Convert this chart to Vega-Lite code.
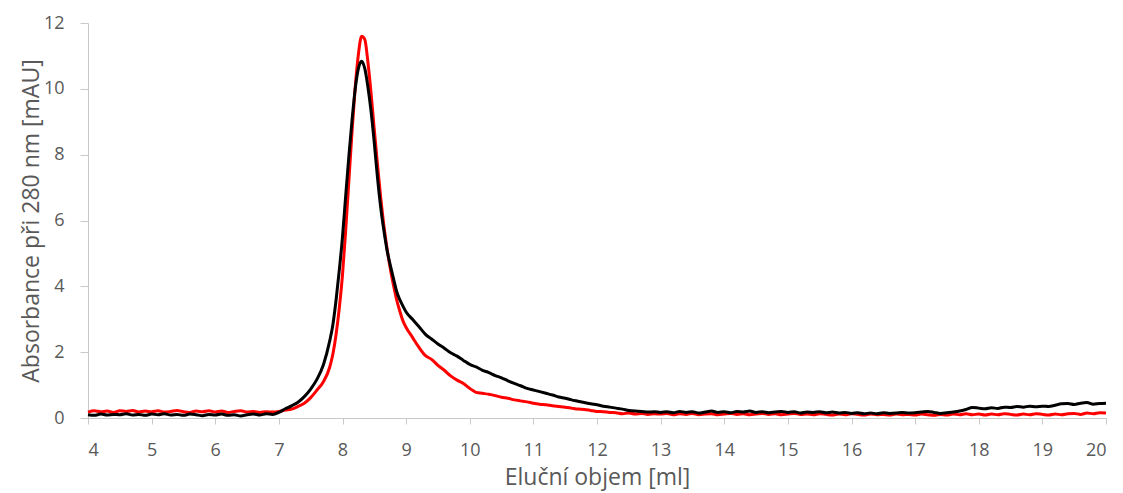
{
  "$schema": "https://vega.github.io/schema/vega-lite/v6.json",
  "width": 1018,
  "height": 395,
  "autosize": {"type": "none"},
  "padding": {"left": 88, "top": 23, "right": 17, "bottom": 75},
  "background": "white",
  "config": {
    "view": {"stroke": null},
    "font": "Open Sans",
    "axis": {
      "grid": false,
      "domainColor": "#c8c8c8",
      "tickColor": "#c8c8c8",
      "labelColor": "#595959",
      "titleColor": "#595959",
      "labelFont": "Open Sans",
      "titleFont": "Open Sans",
      "labelFontSize": 18,
      "titleFontSize": 23,
      "titleFontWeight": "normal"
    }
  },
  "data": {"values": [
    {"x":4.0,"r":0.18,"k":0.10},{"x":4.1,"r":0.22,"k":0.08},{"x":4.2,"r":0.19,"k":0.12},{"x":4.3,"r":0.21,"k":0.09},{"x":4.4,"r":0.17,"k":0.11},
    {"x":4.5,"r":0.22,"k":0.10},{"x":4.6,"r":0.20,"k":0.13},{"x":4.7,"r":0.23,"k":0.09},{"x":4.8,"r":0.18,"k":0.11},{"x":4.9,"r":0.21,"k":0.08},
    {"x":5.0,"r":0.19,"k":0.12},{"x":5.1,"r":0.22,"k":0.10},{"x":5.2,"r":0.18,"k":0.13},{"x":5.3,"r":0.20,"k":0.09},{"x":5.4,"r":0.23,"k":0.11},
    {"x":5.5,"r":0.19,"k":0.08},{"x":5.6,"r":0.17,"k":0.12},{"x":5.7,"r":0.21,"k":0.10},{"x":5.8,"r":0.19,"k":0.07},{"x":5.9,"r":0.22,"k":0.11},
    {"x":6.0,"r":0.18,"k":0.09},{"x":6.1,"r":0.21,"k":0.12},{"x":6.2,"r":0.17,"k":0.08},{"x":6.3,"r":0.20,"k":0.10},{"x":6.4,"r":0.22,"k":0.06},
    {"x":6.5,"r":0.18,"k":0.10},{"x":6.6,"r":0.20,"k":0.12},{"x":6.7,"r":0.17,"k":0.09},{"x":6.8,"r":0.19,"k":0.13},{"x":6.9,"r":0.18,"k":0.11},
    {"x":7.0,"r":0.20,"k":0.17},{"x":7.1,"r":0.24,"k":0.28},{"x":7.2,"r":0.27,"k":0.37},{"x":7.3,"r":0.35,"k":0.48},{"x":7.4,"r":0.45,"k":0.65},
    {"x":7.5,"r":0.62,"k":0.88},{"x":7.6,"r":0.85,"k":1.18},{"x":7.7,"r":1.10,"k":1.62},{"x":7.8,"r":1.55,"k":2.35},{"x":7.85,"r":1.95,"k":2.85},
    {"x":7.9,"r":2.55,"k":3.60},{"x":7.95,"r":3.35,"k":4.50},{"x":8.0,"r":4.35,"k":5.50},{"x":8.05,"r":5.70,"k":6.75},{"x":8.1,"r":7.20,"k":7.95},
    {"x":8.15,"r":8.70,"k":9.05},{"x":8.2,"r":10.05,"k":10.00},{"x":8.25,"r":11.05,"k":10.62},{"x":8.3,"r":11.60,"k":10.84},{"x":8.35,"r":11.50,"k":10.62},
    {"x":8.4,"r":10.80,"k":10.05},{"x":8.45,"r":9.85,"k":9.30},{"x":8.5,"r":8.75,"k":8.35},{"x":8.55,"r":7.70,"k":7.30},{"x":8.6,"r":6.70,"k":6.40},
    {"x":8.65,"r":5.85,"k":5.70},{"x":8.7,"r":5.15,"k":5.10},{"x":8.75,"r":4.55,"k":4.65},{"x":8.8,"r":4.05,"k":4.25},{"x":8.85,"r":3.60,"k":3.85},
    {"x":8.9,"r":3.25,"k":3.60},{"x":8.95,"r":2.95,"k":3.40},{"x":9.0,"r":2.75,"k":3.22},{"x":9.1,"r":2.45,"k":3.00},{"x":9.2,"r":2.15,"k":2.78},
    {"x":9.3,"r":1.90,"k":2.55},{"x":9.4,"r":1.78,"k":2.40},{"x":9.5,"r":1.60,"k":2.25},{"x":9.6,"r":1.45,"k":2.12},{"x":9.7,"r":1.28,"k":1.98},
    {"x":9.8,"r":1.15,"k":1.88},{"x":9.9,"r":1.05,"k":1.75},{"x":10.0,"r":0.90,"k":1.63},{"x":10.1,"r":0.78,"k":1.55},{"x":10.2,"r":0.75,"k":1.45},
    {"x":10.3,"r":0.72,"k":1.38},{"x":10.4,"r":0.68,"k":1.29},{"x":10.5,"r":0.63,"k":1.22},{"x":10.6,"r":0.60,"k":1.13},{"x":10.7,"r":0.55,"k":1.05},
    {"x":10.8,"r":0.52,"k":0.98},{"x":10.9,"r":0.49,"k":0.90},{"x":11.0,"r":0.45,"k":0.85},{"x":11.1,"r":0.42,"k":0.80},{"x":11.2,"r":0.40,"k":0.75},
    {"x":11.3,"r":0.37,"k":0.70},{"x":11.4,"r":0.35,"k":0.64},{"x":11.5,"r":0.33,"k":0.60},{"x":11.6,"r":0.30,"k":0.55},{"x":11.7,"r":0.27,"k":0.51},
    {"x":11.8,"r":0.26,"k":0.47},{"x":11.9,"r":0.23,"k":0.43},{"x":12.0,"r":0.20,"k":0.40},{"x":12.1,"r":0.19,"k":0.36},{"x":12.2,"r":0.17,"k":0.33},
    {"x":12.3,"r":0.16,"k":0.30},{"x":12.4,"r":0.13,"k":0.27},{"x":12.5,"r":0.15,"k":0.23},{"x":12.6,"r":0.12,"k":0.21},{"x":12.7,"r":0.14,"k":0.20},
    {"x":12.8,"r":0.11,"k":0.18},{"x":12.9,"r":0.13,"k":0.19},
    {"x":13.0,"r":0.12,"k":0.17},{"x":13.1,"r":0.14,"k":0.19},{"x":13.2,"r":0.10,"k":0.16},{"x":13.3,"r":0.13,"k":0.20},{"x":13.4,"r":0.11,"k":0.17},
    {"x":13.5,"r":0.14,"k":0.19},{"x":13.6,"r":0.10,"k":0.15},{"x":13.7,"r":0.12,"k":0.18},{"x":13.8,"r":0.13,"k":0.21},{"x":13.9,"r":0.10,"k":0.17},
    {"x":14.0,"r":0.12,"k":0.19},{"x":14.1,"r":0.14,"k":0.16},{"x":14.2,"r":0.11,"k":0.20},{"x":14.3,"r":0.13,"k":0.18},{"x":14.4,"r":0.10,"k":0.21},
    {"x":14.5,"r":0.12,"k":0.17},{"x":14.6,"r":0.14,"k":0.19},{"x":14.7,"r":0.11,"k":0.16},{"x":14.8,"r":0.13,"k":0.18},{"x":14.9,"r":0.10,"k":0.20},
    {"x":15.0,"r":0.12,"k":0.17},{"x":15.1,"r":0.14,"k":0.19},{"x":15.2,"r":0.11,"k":0.15},{"x":15.3,"r":0.12,"k":0.18},{"x":15.4,"r":0.10,"k":0.17},
    {"x":15.5,"r":0.13,"k":0.19},{"x":15.6,"r":0.11,"k":0.16},{"x":15.7,"r":0.09,"k":0.18},{"x":15.8,"r":0.12,"k":0.15},{"x":15.9,"r":0.10,"k":0.17},
    {"x":16.0,"r":0.13,"k":0.14},{"x":16.1,"r":0.11,"k":0.16},{"x":16.2,"r":0.09,"k":0.13},{"x":16.3,"r":0.12,"k":0.15},{"x":16.4,"r":0.10,"k":0.13},
    {"x":16.5,"r":0.11,"k":0.16},{"x":16.6,"r":0.09,"k":0.14},{"x":16.7,"r":0.12,"k":0.15},{"x":16.8,"r":0.10,"k":0.17},{"x":16.9,"r":0.11,"k":0.15},
    {"x":17.0,"r":0.09,"k":0.16},{"x":17.1,"r":0.12,"k":0.18},{"x":17.2,"r":0.10,"k":0.20},{"x":17.3,"r":0.08,"k":0.17},{"x":17.4,"r":0.11,"k":0.14},
    {"x":17.5,"r":0.09,"k":0.16},{"x":17.6,"r":0.12,"k":0.18},{"x":17.7,"r":0.10,"k":0.21},{"x":17.8,"r":0.13,"k":0.26},{"x":17.9,"r":0.10,"k":0.32},
    {"x":18.0,"r":0.12,"k":0.30},{"x":18.1,"r":0.09,"k":0.28},{"x":18.2,"r":0.12,"k":0.31},{"x":18.3,"r":0.10,"k":0.29},{"x":18.4,"r":0.13,"k":0.33},
    {"x":18.5,"r":0.11,"k":0.32},{"x":18.6,"r":0.09,"k":0.35},{"x":18.7,"r":0.12,"k":0.33},{"x":18.8,"r":0.10,"k":0.36},{"x":18.9,"r":0.13,"k":0.34},
    {"x":19.0,"r":0.11,"k":0.36},{"x":19.1,"r":0.09,"k":0.35},{"x":19.2,"r":0.12,"k":0.39},{"x":19.3,"r":0.10,"k":0.43},{"x":19.4,"r":0.13,"k":0.44},
    {"x":19.5,"r":0.14,"k":0.41},{"x":19.6,"r":0.11,"k":0.45},{"x":19.7,"r":0.15,"k":0.47},{"x":19.8,"r":0.13,"k":0.42},{"x":19.9,"r":0.16,"k":0.44},
    {"x":20.0,"r":0.15,"k":0.45}
  ]},
  "encoding": {
    "x": {
      "field": "x", "type": "quantitative",
      "scale": {"domain": [4, 20], "nice": false, "zero": false},
      "axis": {"title": "Eluční objem [ml]", "values": [4,5,6,7,8,9,10,11,12,13,14,15,16,17,18,19,20], "format": "d", "tickSize": 6, "labelPadding": 17, "titlePadding": 7}
    }
  },
  "layer": [
    {
      "mark": {"type": "line", "color": "#ff0000", "strokeWidth": 3, "interpolate": "monotone"},
      "encoding": {
        "y": {
          "field": "r", "type": "quantitative",
          "scale": {"domain": [0, 12], "nice": false},
          "axis": {"title": "Absorbance při 280 nm [mAU]", "values": [0,2,4,6,8,10,12], "tickSize": 8, "labelPadding": 16, "titlePadding": 0}
        }
      }
    },
    {
      "mark": {"type": "line", "color": "#000000", "strokeWidth": 3, "interpolate": "monotone"},
      "encoding": {
        "y": {"field": "k", "type": "quantitative", "scale": {"domain": [0, 12], "nice": false}}
      }
    }
  ]
}
